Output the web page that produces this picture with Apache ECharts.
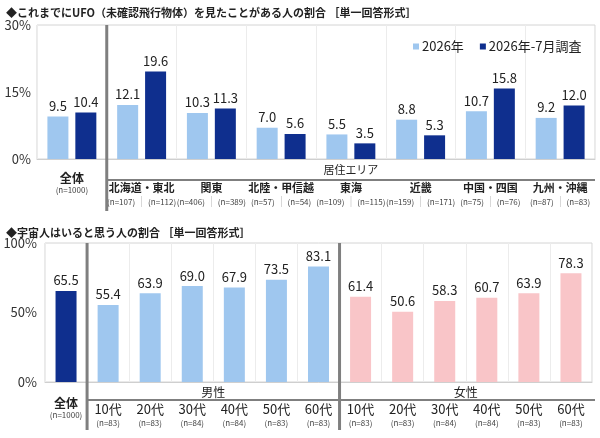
<!DOCTYPE html>
<html>
<head>
<meta charset="utf-8">
<script src="https://cdn.jsdelivr.net/npm/echarts@6/dist/echarts.min.js"></script>
<style>
  html, body { margin: 0; padding: 0; background: #fff; }
  #main { width: 600px; height: 438px; }
</style>
</head>
<body>
<div id="main"></div>
<script>
// UFOを見たことがある人の割合（居住エリア別）
var regions = ['全体', '北海道・東北', '関東', '北陸・甲信越', '東海', '近畿', '中国・四国', '九州・沖縄'];
var ufo2026 = [9.5, 12.1, 10.3, 7.0, 5.5, 8.8, 10.7, 9.2];
var ufoJuly = [10.4, 19.6, 11.3, 5.6, 3.5, 5.3, 15.8, 12.0];
var ufoN1 = ['n=1000', 'n=107', 'n=406', 'n=57', 'n=109', 'n=159', 'n=75', 'n=87'];
var ufoN2 = ['', 'n=112', 'n=389', 'n=54', 'n=115', 'n=171', 'n=76', 'n=83'];
var ufoTicks = [0, 15, 30];

// 宇宙人はいると思う人の割合（性年代別）
var groups = ['全体', '男性10代', '男性20代', '男性30代', '男性40代', '男性50代', '男性60代',
              '女性10代', '女性20代', '女性30代', '女性40代', '女性50代', '女性60代'];
var alienValues = [65.5, 55.4, 63.9, 69.0, 67.9, 73.5, 83.1, 61.4, 50.6, 58.3, 60.7, 63.9, 78.3];
var alienN = ['n=1000', 'n=83', 'n=83', 'n=84', 'n=84', 'n=83', 'n=83',
              'n=83', 'n=83', 'n=84', 'n=84', 'n=83', 'n=83'];
var alienTicks = [0, 50, 100];

var FONT = '"Noto Sans CJK JP", "Noto Sans", sans-serif';
var LIGHT = '#9fc7ef', DARK = '#0f2f8e', PINK = '#f9c5c8';

var myChart = echarts.init(document.getElementById('main'));

var valueLabel = {
    show: true, position: 'top', distance: 4,
    fontFamily: FONT, fontSize: 13, color: '#222',
    formatter: function (p) { return p.value.toFixed(1); }
};

option = {
    animation: false,
    textStyle: { fontFamily: FONT },
    title: [
        { text: '◆これまでにUFO（未確認飛行物体）を見たことがある人の割合 ［単一回答形式］', left: 1, top: 2,
          textStyle: { fontFamily: FONT, fontSize: 11, fontWeight: 'bold', color: '#222' } },
        { text: '◆宇宙人はいると思う人の割合 ［単一回答形式］', left: 1, top: 222,
          textStyle: { fontFamily: FONT, fontSize: 11, fontWeight: 'bold', color: '#222' } }
    ],
    legend: {
        data: ['2026年', '2026年-7月調査'],
        left: 408, top: 35, icon: 'rect', itemWidth: 6, itemHeight: 6, itemGap: 16,
        textStyle: { fontFamily: FONT, fontSize: 13, color: '#222', padding: [0, 0, 0, -2] }
    },
    grid: [
        { left: 37, right: 5, top: 25, height: 134, show: true, borderColor: '#d4d4d4', borderWidth: 1 },
        { left: 45, right: 8, top: 243, height: 139, show: true, borderColor: '#d4d4d4', borderWidth: 1 }
    ],
    xAxis: [
        {
            type: 'category', gridIndex: 0, data: regions,
            axisTick: { show: false },
            axisLine: { lineStyle: { color: '#cfcfcf' } },
            splitLine: { show: true, interval: 0, lineStyle: { color: '#ececec' } },
            axisLabel: {
                interval: 0, margin: 12,
                formatter: function (v, i) {
                    if (i === 0) return '{a|全体}\n{an|(' + ufoN1[0] + ')}';
                    return '{sp| }\n{r|' + v + '}\n{n|(' + ufoN1[i] + ')}{sep|│}{n|(' + ufoN2[i] + ')}';
                },
                rich: {
                    a: { fontFamily: FONT, fontSize: 12, fontWeight: 'bold', color: '#222', lineHeight: 14 },
                    an: { fontFamily: FONT, fontSize: 8, color: '#444', lineHeight: 9 },
                    sp: { fontSize: 6, lineHeight: 10 },
                    r: { fontFamily: FONT, fontSize: 11, fontWeight: 'bold', color: '#222', lineHeight: 14 },
                    n: { fontFamily: FONT, fontSize: 8, color: '#444', lineHeight: 14 },
                    sep: { fontFamily: FONT, fontSize: 11, color: '#b0b0b0', lineHeight: 14, padding: [0, 1] }
                }
            }
        },
        {
            type: 'category', gridIndex: 1, data: groups,
            axisTick: { show: false },
            axisLine: { lineStyle: { color: '#cfcfcf' } },
            splitLine: { show: true, interval: 0, lineStyle: { color: '#ececec' } },
            axisLabel: {
                interval: 0, margin: 14,
                formatter: function (v, i) {
                    if (i === 0) return '{a|全体}\n{an|(' + alienN[0] + ')}';
                    return '{sp| }\n{r|' + v.slice(2) + '}\n{n|(' + alienN[i] + ')}';
                },
                rich: {
                    a: { fontFamily: FONT, fontSize: 12, fontWeight: 'bold', color: '#222', lineHeight: 14 },
                    an: { fontFamily: FONT, fontSize: 8, color: '#444', lineHeight: 9 },
                    sp: { fontSize: 6, lineHeight: 7 },
                    r: { fontFamily: FONT, fontSize: 13, color: '#222', lineHeight: 13 },
                    n: { fontFamily: FONT, fontSize: 8, color: '#444', lineHeight: 14 }
                }
            }
        }
    ],
    yAxis: [
        {
            type: 'value', gridIndex: 0, min: ufoTicks[0], max: ufoTicks[2], interval: ufoTicks[1],
            splitLine: { show: false }, axisLine: { show: false }, axisTick: { show: false },
            axisLabel: { formatter: '{value}%', fontFamily: FONT, fontSize: 13, color: '#333', margin: 6 }
        },
        {
            type: 'value', gridIndex: 1, min: alienTicks[0], max: alienTicks[2], interval: alienTicks[1],
            splitLine: { show: false }, axisLine: { show: false }, axisTick: { show: false },
            axisLabel: { formatter: '{value}%', fontFamily: FONT, fontSize: 13, color: '#333', margin: 8 }
        }
    ],
    series: [
        {
            name: '2026年', type: 'bar', xAxisIndex: 0, yAxisIndex: 0,
            data: ufo2026, barWidth: 21, barGap: '33%',
            itemStyle: { color: LIGHT }, label: valueLabel
        },
        {
            name: '2026年-7月調査', type: 'bar', xAxisIndex: 0, yAxisIndex: 0,
            data: ufoJuly, barWidth: 21, barGap: '33%',
            itemStyle: { color: DARK }, label: valueLabel
        },
        {
            name: '宇宙人', type: 'bar', xAxisIndex: 1, yAxisIndex: 1,
            data: alienValues, barWidth: 21,
            itemStyle: {
                color: function (p) {
                    if (p.dataIndex === 0) return DARK;
                    return p.dataIndex <= 6 ? LIGHT : PINK;
                }
            },
            label: valueLabel
        }
    ]
};

myChart.setOption(option);

// 区切り線・グループ見出し
function boundary(axisIndex, cats, i) {
    var a = myChart.convertToPixel({ xAxisIndex: axisIndex }, cats[i]);
    var b = myChart.convertToPixel({ xAxisIndex: axisIndex }, cats[i + 1]);
    return (a + b) / 2;
}
var gray = '#7f7f7f';
var d0 = boundary(0, regions, 0);
var d1 = boundary(1, groups, 0);
var d2 = boundary(1, groups, 6);
var right0 = 595, right1 = 592;

myChart.setOption({
    graphic: [
        { type: 'line', shape: { x1: d0, y1: 25, x2: d0, y2: 211 }, style: { stroke: gray, lineWidth: 3 }, z: 100 },
        { type: 'line', shape: { x1: d0, y1: 180, x2: right0, y2: 180 }, style: { stroke: gray, lineWidth: 2 }, z: 100 },
        { type: 'text', x: (d0 + right0) / 2, y: 170,
          style: { text: '居住エリア', fontFamily: FONT, fontSize: 11, fill: '#222', align: 'center', verticalAlign: 'middle' } },
        { type: 'line', shape: { x1: d1, y1: 243, x2: d1, y2: 430 }, style: { stroke: gray, lineWidth: 3 }, z: 100 },
        { type: 'line', shape: { x1: d2, y1: 243, x2: d2, y2: 430 }, style: { stroke: gray, lineWidth: 3 }, z: 100 },
        { type: 'line', shape: { x1: d1, y1: 400, x2: right1 + 3, y2: 400 }, style: { stroke: gray, lineWidth: 2 }, z: 100 },
        { type: 'text', x: (d1 + d2) / 2, y: 392,
          style: { text: '男性', fontFamily: FONT, fontSize: 12, fill: '#222', align: 'center', verticalAlign: 'middle' } },
        { type: 'text', x: (d2 + right1) / 2, y: 392,
          style: { text: '女性', fontFamily: FONT, fontSize: 12, fill: '#222', align: 'center', verticalAlign: 'middle' } }
    ]
});

window.addEventListener('resize', function () {
    myChart.resize();
});
</script>
</body>
</html>
